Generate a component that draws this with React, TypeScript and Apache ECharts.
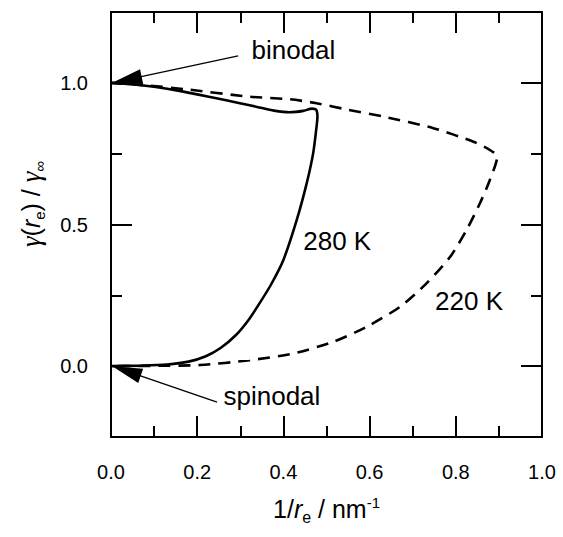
import React, { useEffect, useRef } from "react";
import * as echarts from "echarts";

// γ(r_e)/γ∞ against 1/r_e for two temperatures
const curve280K: [number, number][] = [
  [0.0, 1.0], [0.05, 0.995], [0.1, 0.986], [0.168, 0.969], [0.23, 0.95],
  [0.299, 0.928], [0.339, 0.915], [0.378, 0.902], [0.415, 0.896], [0.446, 0.901],
  [0.466, 0.909], [0.476, 0.905], [0.479, 0.88], [0.477, 0.846], [0.469, 0.751],
  [0.454, 0.645], [0.431, 0.516], [0.4, 0.375], [0.372, 0.29], [0.346, 0.225],
  [0.32, 0.165], [0.29, 0.11], [0.255, 0.065], [0.22, 0.035], [0.18, 0.016],
  [0.13, 0.006], [0.07, 0.002], [0.0, 0.0],
];

const curve220K: [number, number][] = [
  [0.0, 1.0], [0.09, 0.99], [0.17, 0.978], [0.322, 0.951], [0.415, 0.942],
  [0.477, 0.928], [0.55, 0.905], [0.632, 0.881], [0.748, 0.84], [0.841, 0.792],
  [0.879, 0.763], [0.896, 0.74], [0.879, 0.657], [0.856, 0.575], [0.825, 0.481],
  [0.787, 0.386], [0.732, 0.292], [0.671, 0.21], [0.593, 0.139], [0.516, 0.086],
  [0.423, 0.045], [0.322, 0.021], [0.206, 0.004], [0.09, 0.001], [0.0, 0.0],
];

const yMajorTicks = [0, 0.5, 1.0];
const yMinorTicks = [0.25, 0.75];

const annotationTexts = ["binodal", "spinodal", "280 K", "220 K"];
const annotationPositions: [number, number][] = [
  [0.326, 1.115],
  [0.261, -0.107],
  [0.446, 0.443],
  [0.752, 0.229],
];

// [x from, y from, x tip, y tip]
const arrowSegments: [number, number, number, number][] = [
  [0.295, 1.095, 0.003, 1.0],
  [0.246, -0.127, 0.003, 0.0],
];

const SANS = "'Liberation Sans', Arial, Helvetica, sans-serif";
const SERIF = "'Liberation Serif', 'Times New Roman', serif";
const BLACK = "#000";
const HEAD_LEN = 30;
const HEAD_HALF = 7.5;

const GRID_BOX = { left: 111, right: 21, top: 12, bottom: 100, containLabel: false };
const frameLine = { show: true, onZero: false, lineStyle: { color: BLACK, width: 2 } };

function xAxisDef(pos: "bottom" | "top") {
  return {
    type: "value",
    gridIndex: 0,
    position: pos,
    min: 0,
    max: 1,
    interval: 0.2,
    axisLine: frameLine,
    axisTick: { show: true, inside: true, length: 21, lineStyle: { color: BLACK, width: 2 } },
    minorTick: { show: true, splitNumber: 2, length: 11, lineStyle: { color: BLACK, width: 2 } },
    splitLine: { show: false },
    axisLabel: {
      show: pos === "bottom",
      margin: 25,
      fontSize: 20,
      color: BLACK,
      fontFamily: SANS,
      formatter: (v: number) => v.toFixed(1),
    },
    ...(pos === "bottom"
      ? {
          name: "{n|1/}{i|r}{sub|e}{n| / nm}{sup|-1}",
          nameLocation: "middle",
          nameGap: 56,
          nameTextStyle: {
            color: BLACK,
            fontFamily: SANS,
            fontSize: 25,
            rich: {
              n: { fontSize: 25, fontFamily: SANS, color: BLACK },
              i: { fontSize: 25, fontFamily: SANS, fontStyle: "italic", color: BLACK },
              sub: { fontSize: 16, fontFamily: SANS, color: BLACK, padding: [16, 0, 0, 0] },
              sup: { fontSize: 15, fontFamily: SANS, color: BLACK, padding: [0, 0, 14, 0] },
            },
          },
        }
      : {}),
  };
}

// Major y axes live on grid 0; minor-tick-only y axes on an identical grid 1.
function yAxisDef(pos: "left" | "right", major: boolean) {
  return {
    type: "value",
    gridIndex: major ? 0 : 1,
    position: pos,
    min: -0.25,
    max: 1.25,
    interval: 0.25,
    axisLine: major ? frameLine : { show: false, onZero: false },
    axisTick: {
      show: true,
      inside: true,
      length: major ? 21 : 11,
      customValues: major ? yMajorTicks : yMinorTicks,
      lineStyle: { color: BLACK, width: 2 },
    },
    splitLine: { show: false },
    axisLabel: {
      show: pos === "left" && major,
      customValues: yMajorTicks,
      margin: 23,
      fontSize: 20,
      color: BLACK,
      fontFamily: SANS,
      formatter: (v: number) => v.toFixed(1),
    },
  };
}

export default function App() {
  const ref = useRef<HTMLDivElement>(null);

  useEffect(() => {
    if (!ref.current) return;
    const chart = echarts.init(ref.current, undefined, { renderer: "svg" });

    chart.setOption({
      animation: false,
      backgroundColor: "#fff",
      textStyle: { fontFamily: SANS },
      grid: [GRID_BOX, GRID_BOX],
      xAxis: [
        xAxisDef("bottom"),
        xAxisDef("top"),
        {
          type: "value",
          gridIndex: 1,
          min: 0,
          max: 1,
          show: false,
          axisLine: { show: false, onZero: false },
        },
      ],
      yAxis: [
        yAxisDef("left", true),
        yAxisDef("right", true),
        yAxisDef("left", false),
        yAxisDef("right", false),
      ],
      graphic: [
        {
          type: "text",
          x: 31,
          y: 204,
          rotation: Math.PI / 2,
          style: {
            text: "{g|γ}{n|(}{i|r}{sub|e}{n|) / }{g|γ}{sub|∞}",
            align: "center",
            verticalAlign: "middle",
            fill: BLACK,
            rich: {
              g: { fontSize: 27, fontFamily: SERIF, fontStyle: "italic", fill: BLACK },
              n: { fontSize: 25, fontFamily: SANS, fill: BLACK },
              i: { fontSize: 25, fontFamily: SANS, fontStyle: "italic", fill: BLACK },
              sub: { fontSize: 15, fontFamily: SANS, fill: BLACK, padding: [16, 0, 0, 0] },
            },
          },
        },
      ],
      series: [
        {
          type: "line",
          name: "280 K",
          xAxisIndex: 0,
          yAxisIndex: 0,
          data: curve280K,
          showSymbol: false,
          smooth: 0.25,
          clip: false,
          lineStyle: { color: BLACK, width: 2.6, type: "solid" },
          z: 3,
        },
        {
          type: "line",
          name: "220 K",
          xAxisIndex: 0,
          yAxisIndex: 0,
          data: curve220K,
          showSymbol: false,
          smooth: 0.25,
          clip: false,
          lineStyle: { color: BLACK, width: 2.6, type: [12, 8] },
          z: 2,
        },
        {
          type: "custom",
          name: "arrows",
          xAxisIndex: 0,
          yAxisIndex: 0,
          data: arrowSegments,
          encode: { x: [0, 2], y: [1, 3] },
          clip: false,
          z: 4,
          renderItem: (_params: any, api: any) => {
            const p1 = api.coord([api.value(0), api.value(1)]);
            const p2 = api.coord([api.value(2), api.value(3)]);
            const dx = p2[0] - p1[0];
            const dy = p2[1] - p1[1];
            const len = Math.hypot(dx, dy);
            const ux = dx / len;
            const uy = dy / len;
            const bx = p2[0] - ux * HEAD_LEN;
            const by = p2[1] - uy * HEAD_LEN;
            const nx = -uy;
            const ny = ux;
            return {
              type: "group",
              children: [
                {
                  type: "line",
                  shape: { x1: p1[0], y1: p1[1], x2: bx + ux * 4, y2: by + uy * 4 },
                  style: { stroke: BLACK, lineWidth: 1.4 },
                },
                {
                  type: "polygon",
                  shape: {
                    points: [
                      [p2[0], p2[1]],
                      [bx + nx * HEAD_HALF, by + ny * HEAD_HALF],
                      [bx - nx * HEAD_HALF, by - ny * HEAD_HALF],
                    ],
                  },
                  style: { fill: BLACK },
                },
              ],
            };
          },
        },
        {
          type: "custom",
          name: "labels",
          xAxisIndex: 0,
          yAxisIndex: 0,
          data: annotationPositions,
          encode: { x: 0, y: 1 },
          clip: false,
          z: 5,
          renderItem: (params: any, api: any) => {
            const p = api.coord([api.value(0), api.value(1)]);
            return {
              type: "text",
              x: p[0],
              y: p[1],
              style: {
                text: annotationTexts[params.dataIndex],
                fontSize: 26,
                fontFamily: SANS,
                fill: BLACK,
                align: "left",
                verticalAlign: "middle",
              },
            };
          },
        },
      ],
    });

    return () => chart.dispose();
  }, []);

  return (
    <div
      ref={ref}
      style={{ position: "absolute", left: 0, top: 0, width: 563, height: 537 }}
    />
  );
}
